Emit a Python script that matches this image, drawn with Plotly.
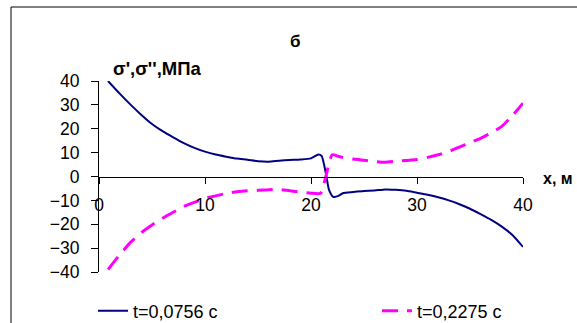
import plotly.graph_objects as go

x1 = [0.85, 2, 3, 4, 5, 6, 7, 8, 9, 10, 11, 12, 13, 14, 15, 16, 17, 18, 19, 20,
      20.7, 21.0, 21.4, 21.7, 22.1, 22.6, 23, 24, 25, 26, 27, 28, 29, 30, 31, 32,
      33, 34, 35, 36, 37, 38, 39, 40]
s1 = [40, 34.5, 30.0, 25.8, 22.0, 19.0, 16.4, 14.0, 12.0, 10.4, 9.2, 8.3, 7.5,
      7.0, 6.4, 6.2, 6.6, 6.9, 7.1, 7.6, 9.2, 8.6, 1.4, -5.6, -8.5, -8.1, -7.0,
      -6.5, -6.1, -5.9, -5.4, -5.6, -6.0, -6.8, -7.6, -8.7, -10.0, -11.6, -13.5,
      -15.8, -18.2, -21.0, -24.5, -29.5]

x2 = [0.85, 2, 3, 4, 5, 6, 7, 8, 9, 10, 11, 12, 13, 14, 15, 16, 17, 18, 19, 20,
      20.9, 21.4, 22.0, 22.6, 23, 24, 25, 26, 27, 28, 29, 30, 31, 32, 33, 34, 35,
      36, 37, 38, 39, 40]
s2 = [-39, -32.5, -27.5, -23.5, -20.3, -17.5, -15.0, -12.6, -10.8, -9.1, -8.1,
      -7.1, -6.4, -6.0, -5.8, -5.5, -5.4, -6.0, -6.5, -7.0, -7.0, 0, 9.1, 8.4,
      8.0, 7.3, 6.8, 6.3, 6.0, 6.4, 6.7, 7.1, 8.0, 9.1, 10.5, 12.3, 14.2, 16.0,
      18.3, 21.0, 25.5, 30.7]

names = ["t=0,0756 с", "t=0,2275 с"]
x_ticks = [0, 10, 20, 30, 40]
y_ticks = [-40, -30, -20, -10, 0, 10, 20, 30, 40]

FONT = "Arial, Liberation Sans, sans-serif"

fig = go.Figure()
fig.add_trace(go.Scatter(x=x1, y=s1, mode="lines", name=names[0], legend="legend",
                         line=dict(color="#000080", width=2, shape="spline", smoothing=0.6)))
fig.add_trace(go.Scatter(x=x2, y=s2, mode="lines", name=names[1], legend="legend2",
                         line=dict(color="#FF00FF", width=3, dash="16px,9px",
                                   shape="spline", smoothing=0.6)))

L, R, T, B = 99, 54, 81, 51
W, H = 577, 323
pw, ph = W - L - R, H - T - B

def px(xp):
    return (xp - L) / pw

def py(yp):
    return (H - B - yp) / ph

legfont = dict(family=FONT, size=18, color="black")
tickfont = dict(family=FONT, size=17.5, color="black")
fig.update_layout(
    width=W, height=H,
    margin=dict(l=L, r=R, t=T, b=B, autoexpand=False),
    paper_bgcolor="white", plot_bgcolor="white",
    font=dict(family=FONT, size=17, color="black"),
    showlegend=True,
    legend=dict(orientation="h", xref="container", yref="container",
                x=93 / W, y=1 - 311 / H, xanchor="left", yanchor="middle",
                font=legfont, bgcolor="rgba(0,0,0,0)"),
    legend2=dict(orientation="h", xref="container", yref="container",
                 x=377 / W, y=1 - 311 / H, xanchor="left", yanchor="middle",
                 font=legfont, bgcolor="rgba(0,0,0,0)"),
    xaxis=dict(range=[0, 40], tickvals=x_ticks, showgrid=False, zeroline=False,
               showline=True, linecolor="black", linewidth=1,
               ticks="outside", ticklen=6, tickcolor="black",
               anchor="free", position=0.5, ticklabelstandoff=6,
               tickfont=tickfont),
    yaxis=dict(range=[-40, 40], tickvals=y_ticks, showgrid=False, zeroline=False,
               showline=True, linecolor="black", linewidth=1,
               ticks="outside", ticklen=7, tickcolor="black", ticklabelstandoff=8,
               tickfont=tickfont),
)

fig.add_annotation(text="<b>б</b>", xref="paper", yref="paper", x=px(295), y=py(30),
                   showarrow=False, font=dict(family=FONT, size=17, color="black"))
fig.add_annotation(text="<b>σ',σ'',МПа</b>", xref="paper", yref="paper",
                   x=px(111), y=py(68), xanchor="left", yanchor="middle",
                   showarrow=False, font=dict(family=FONT, size=18.5, color="black"))
fig.add_annotation(text="<b>x, м</b>", xref="paper", yref="paper",
                   x=px(575), y=py(178), xanchor="right", yanchor="middle",
                   showarrow=False, font=dict(family=FONT, size=16, color="black"))

# chart-area border (right and bottom edges lie outside the picture)
fig.add_shape(type="rect", xref="paper", yref="paper",
              x0=px(11), x1=px(620), y0=py(360), y1=py(7),
              line=dict(color="black", width=1), fillcolor="rgba(0,0,0,0)", layer="below")

fig.write_html("out.html", config={"displayModeBar": False},
               post_script="document.body.style.margin='0';document.body.style.overflow='hidden';")
